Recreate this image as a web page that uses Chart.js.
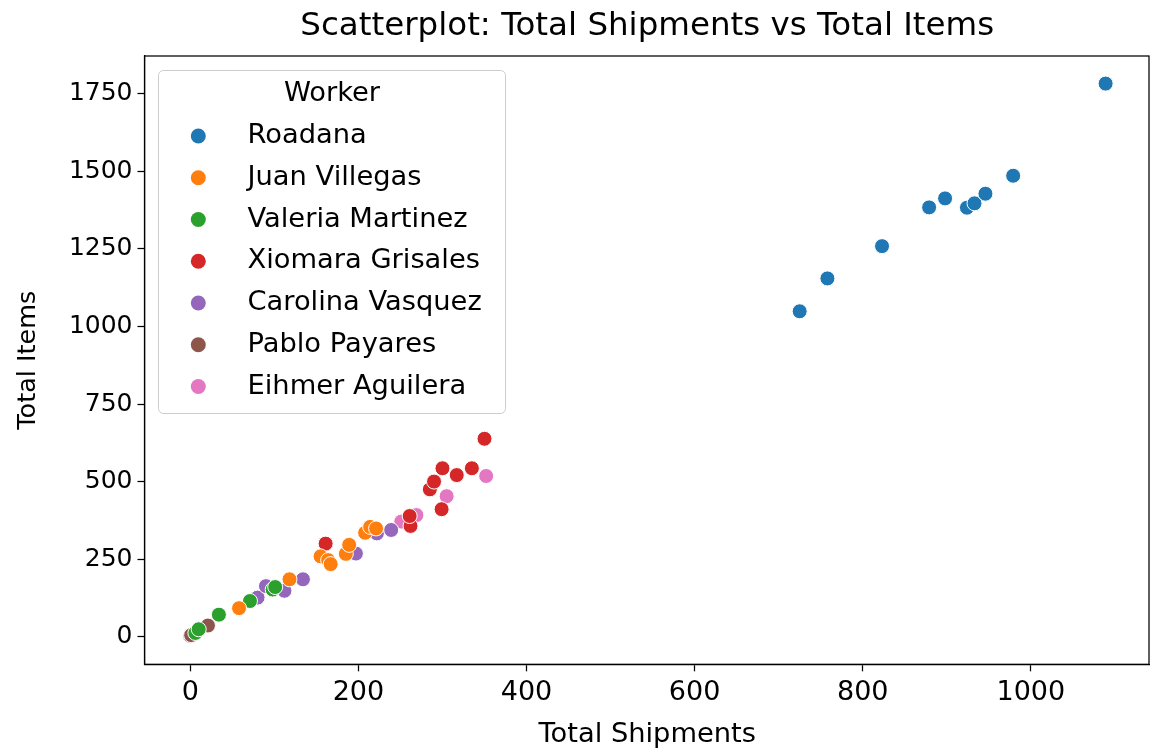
<!DOCTYPE html>
<html>
<head>
<meta charset="utf-8">
<script src="https://cdn.jsdelivr.net/npm/chart.js@4/dist/chart.umd.min.js"></script>
<style>
  html, body { margin: 0; padding: 0; background: #ffffff; }
  canvas { display: block; }
</style>
</head>
<body>
<canvas id="chart" width="1150" height="751"></canvas>
<script>
// Shipments and items handled per worker
const workers = ["Roadana", "Juan Villegas", "Valeria Martinez", "Xiomara Grisales",
                 "Carolina Vasquez", "Pablo Payares", "Eihmer Aguilera"];
const workerColors = ["#1f77b4", "#ff7f0e", "#2ca02c", "#d62728", "#9467bd", "#8c564b", "#e377c2"];

const roadanaShipments   = [725, 758, 823, 879, 898, 924, 933, 946, 979, 1089];
const roadanaItems       = [1049, 1155, 1259, 1384, 1413, 1383, 1397, 1428, 1486, 1783];

const juanShipments      = [58, 118, 155, 164, 167, 185, 189, 208, 214, 221];
const juanItems          = [92, 185, 259, 247, 234, 267, 296, 335, 354, 349];

const valeriaShipments   = [6, 10, 34, 71, 98, 101];
const valeriaItems       = [12, 24, 71, 115, 152, 160];

const xiomaraShipments   = [161, 262, 261, 299, 285, 290, 300, 317, 335, 350];
const xiomaraItems       = [300, 357, 389, 411, 475, 500, 543, 521, 543, 638];

const carolinaShipments  = [80, 90, 112, 134, 197, 222, 239];
const carolinaItems      = [126, 163, 148, 185, 268, 333, 344];

const pabloShipments     = [0, 1, 21];
const pabloItems         = [3, 5, 36];

const eihmerShipments    = [251, 269, 305, 352];
const eihmerItems        = [371, 392, 453, 518];

const xTickValues = [0, 200, 400, 600, 800, 1000];
const yTickValues = [0, 250, 500, 750, 1000, 1250, 1500, 1750];

const chartTitle = "Scatterplot: Total Shipments vs Total Items";
const legendTitle = "Worker";

const shipmentsByWorker = [roadanaShipments, juanShipments, valeriaShipments, xiomaraShipments,
                           carolinaShipments, pabloShipments, eihmerShipments];
const itemsByWorker     = [roadanaItems, juanItems, valeriaItems, xiomaraItems,
                           carolinaItems, pabloItems, eihmerItems];

const FONT = "'DejaVu Sans', 'Liberation Sans', sans-serif";

const datasets = workers.map((name, i) => ({
  label: name,
  data: shipmentsByWorker[i].map((x, j) => ({ x: x, y: itemsByWorker[i][j] })),
  backgroundColor: workerColors[i],
  borderColor: "#ffffff",
  borderWidth: 1,
  pointRadius: 7.5,
  pointHoverRadius: 7.5
}));

// Boxed legend inside the plot, with a heading
const workerLegend = {
  id: "workerLegend",
  afterDatasetsDraw(chart) {
    const ctx = chart.ctx;
    const left = 158.5, top = 70.5, width = 347, height = 343, r = 5;
    ctx.save();
    ctx.beginPath();
    ctx.moveTo(left + r, top);
    ctx.lineTo(left + width - r, top);
    ctx.arcTo(left + width, top, left + width, top + r, r);
    ctx.lineTo(left + width, top + height - r);
    ctx.arcTo(left + width, top + height, left + width - r, top + height, r);
    ctx.lineTo(left + r, top + height);
    ctx.arcTo(left, top + height, left, top + height - r, r);
    ctx.lineTo(left, top + r);
    ctx.arcTo(left, top, left + r, top, r);
    ctx.closePath();
    ctx.fillStyle = "rgba(255,255,255,0.8)";
    ctx.fill();
    ctx.strokeStyle = "#cccccc";
    ctx.lineWidth = 1;
    ctx.stroke();

    ctx.fillStyle = "#000000";
    ctx.font = "27.3px " + FONT;
    ctx.textBaseline = "middle";
    ctx.textAlign = "center";
    ctx.fillText(legendTitle, 332, 94);

    ctx.textAlign = "left";
    chart.data.datasets.forEach((ds, i) => {
      const y = 136 + i * 41.75;
      ctx.beginPath();
      ctx.arc(198.3, y, 7.5, 0, Math.PI * 2);
      ctx.fillStyle = ds.backgroundColor;
      ctx.fill();
      ctx.fillStyle = "#000000";
      ctx.fillText(ds.label, 247.5, y);
    });
    ctx.restore();
  }
};

// Full box around the plotting area and the title centred over it
const axesFrame = {
  id: "axesFrame",
  afterDraw(chart) {
    const a = chart.chartArea;
    const ctx = chart.ctx;
    ctx.save();
    ctx.strokeStyle = "#000000";
    ctx.lineWidth = 1.25;
    ctx.strokeRect(a.left, a.top, a.right - a.left - 1, a.bottom - a.top);
    ctx.fillStyle = "#000000";
    ctx.font = "32.5px " + FONT;
    ctx.textAlign = "center";
    ctx.textBaseline = "middle";
    ctx.fillText(chartTitle, (a.left + a.right) / 2, 27);
    ctx.restore();
  }
};

new Chart(document.getElementById("chart"), {
  type: "scatter",
  data: { datasets: datasets },
  plugins: [workerLegend, axesFrame],
  options: {
    responsive: false,
    animation: false,
    layout: { autoPadding: false, padding: { left: 0, right: 0, top: 56, bottom: 0 } },
    plugins: {
      legend: { display: false },
      tooltip: { enabled: false },
      title: { display: false }
    },
    scales: {
      x: {
        type: "linear",
        min: -54.5,
        max: 1141.8,
        afterBuildTicks: (scale) => { scale.ticks = xTickValues.map(v => ({ value: v })); },
        afterFit: (scale) => { scale.height = 86.7; scale.paddingLeft = 0; scale.paddingRight = 0; },
        ticks: {
          color: "#000000",
          font: { family: FONT, size: 27 },
          padding: 5,
          maxRotation: 0,
          autoSkip: false,
          callback: (v) => String(v)
        },
        grid: { drawOnChartArea: false, drawTicks: true, tickLength: 7, tickWidth: 1.25, tickColor: "#000000" },
        border: { display: true, color: "#000000", width: 1.25 },
        title: {
          display: true,
          text: "Total Shipments",
          color: "#000000",
          font: { family: FONT, size: 27.3, lineHeight: 1.2 },
          padding: { top: 4, bottom: 0 }
        }
      },
      y: {
        type: "linear",
        min: -89,
        max: 1872,
        afterBuildTicks: (scale) => { scale.ticks = yTickValues.map(v => ({ value: v })); },
        afterFit: (scale) => { scale.width = 144.5; scale.paddingTop = 0; scale.paddingBottom = 0; },
        ticks: {
          color: "#000000",
          font: { family: FONT, size: 25 },
          padding: 5,
          autoSkip: false,
          callback: (v) => String(v)
        },
        grid: { drawOnChartArea: false, drawTicks: true, tickLength: 7, tickWidth: 1.25, tickColor: "#000000" },
        border: { display: true, color: "#000000", width: 1.25 },
        title: {
          display: true,
          text: "Total Items",
          color: "#000000",
          font: { family: FONT, size: 25.5, lineHeight: 1.2 },
          padding: { top: 13, bottom: 4 }
        }
      }
    }
  }
});
</script>
</body>
</html>
